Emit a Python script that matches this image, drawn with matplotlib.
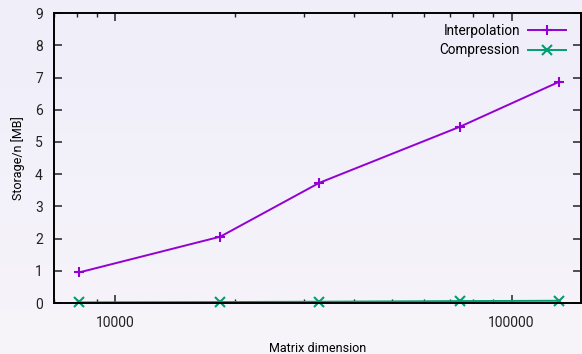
import matplotlib.pyplot as plt
import numpy as np
from matplotlib.ticker import LogLocator, NullFormatter, FixedLocator
from matplotlib.colors import LinearSegmentedColormap

plt.rcParams['font.family'] = ['Roboto', 'DejaVu Sans']

# --- Données ---
dimensions = [8100, 18400, 32700, 74000, 132000]
interpolation = [0.95, 2.06, 3.73, 5.47, 6.87]
compression = [0.02, 0.03, 0.04, 0.06, 0.07]

y_ticks = [0, 1, 2, 3, 4, 5, 6, 7, 8, 9]
x_ticks = [10000, 100000]
x_tick_labels = ['10000', '100000']

violet = '#9400d3'
vert = '#009e73'

fig = plt.figure(figsize=(5.82, 3.54), dpi=100)

# fond dégradé léger
bg = fig.add_axes([0, 0, 1, 1], zorder=-10)
grad = np.linspace(0, 1, 256).reshape(-1, 1)
cmap = LinearSegmentedColormap.from_list('fond', ['#efeefa', '#f7f4f9'])
bg.imshow(grad, aspect='auto', cmap=cmap, extent=[0, 1, 0, 1], origin='upper')
bg.axis('off')

ax = fig.add_axes([0.0928, 0.144, 0.906, 0.819])
ax.set_facecolor('none')

ax.plot(dimensions, interpolation, '-', marker='+', color=violet, lw=1.4,
        markersize=7.5, markeredgewidth=1.5, label='Interpolation', clip_on=False)
ax.plot(dimensions, compression, '-', marker='x', color=vert, lw=1.4,
        markersize=6.5, markeredgewidth=1.5, label='Compression', clip_on=False)

ax.set_xscale('log')
ax.set_xlim(7000, 150000)
ax.set_ylim(0, 9)

ax.xaxis.set_major_locator(FixedLocator(x_ticks))
ax.set_xticklabels(x_tick_labels)
ax.xaxis.set_minor_locator(LogLocator(base=10, subs=np.arange(2, 10)))
ax.xaxis.set_minor_formatter(NullFormatter())
ax.set_yticks(y_ticks)

ax.tick_params(which='both', direction='in', top=True, right=True,
               labelsize=10, colors='#222222')
ax.tick_params(which='major', length=6, width=1.1, pad=8)
ax.tick_params(which='minor', length=3, width=1.0)
ax.tick_params(axis='x', which='major', pad=9)

for s in ax.spines.values():
    s.set_linewidth(1.4)
    s.set_color('black')

ax.set_xlabel('Matrix dimension', fontsize=9, labelpad=9)
ax.set_ylabel('Storage/n [MB]', fontsize=9, labelpad=7)

ax.legend(loc='upper right', frameon=False, markerfirst=False, fontsize=9.8,
          handlelength=2.8, handletextpad=0.6, labelspacing=0.4,
          borderaxespad=0.4, bbox_to_anchor=(0.992, 1.0))

plt.savefig('out.png', dpi=100)
